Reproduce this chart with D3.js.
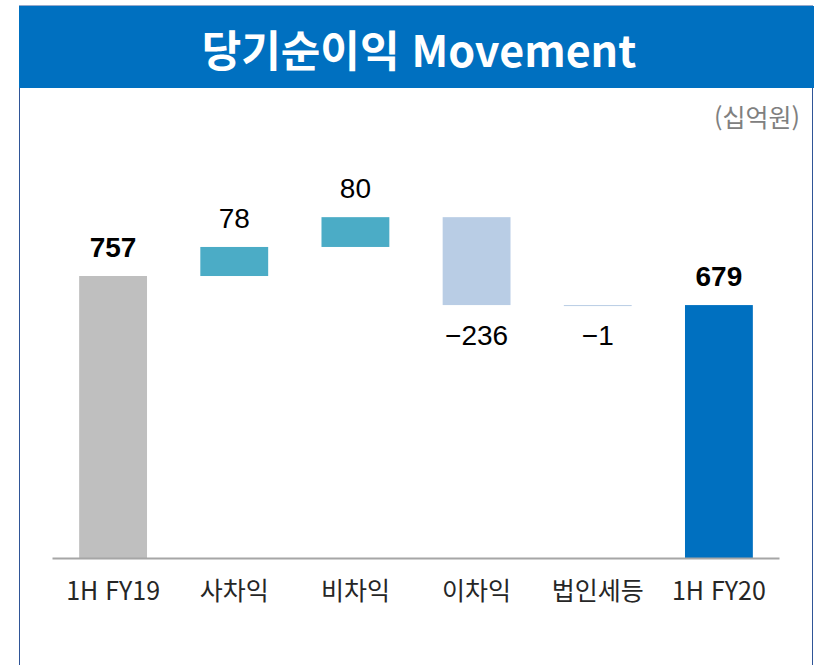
<!DOCTYPE html>
<html lang="ko">
<head>
    <meta charset="UTF-8">
    <title>당기순이익 Movement</title>
    <script src="https://d3js.org/d3.v7.min.js"></script>
    <style>
        body { margin: 0; background: #ffffff; }
        .title { font-family: "Noto Sans CJK KR", sans-serif; font-weight: 700; fill: #ffffff; }
        .unit { font-family: "Noto Sans CJK KR", sans-serif; fill: #808080; }
        .val { font-family: "Liberation Sans", Arial, sans-serif; fill: #000000; text-anchor: middle; }
        .cat { font-family: "Noto Sans CJK KR", "Liberation Sans", sans-serif; fill: #262626; text-anchor: middle; }
    </style>
</head>
<body>
<script>
    const categories = ["1H FY19", "사차익", "비차익", "이차익", "법인세등", "1H FY20"];
    const values = [757, 78, 80, -236, -1, 679];
    const kinds = ["total", "up", "up", "down", "down", "total"];
    const labels = ["757", "78", "80", "\u2212236", "\u22121", "679"];

    const colors = { total0: "#bfbfbf", up: "#4bacc6", down: "#b9cde5", total1: "#0070c0" };

    const W = 817, H = 665;
    const svg = d3.select("body").append("svg")
        .attr("width", W)
        .attr("height", H);

    // frame + header
    svg.append("rect")
        .attr("x", 19.5).attr("y", 6)
        .attr("width", 793).attr("height", H)
        .attr("fill", "#fff")
        .attr("stroke", "#2f5597")
        .attr("stroke-width", 1);
    svg.append("rect")
        .attr("x", 19).attr("y", 6)
        .attr("width", 795).attr("height", 82)
        .attr("fill", "#0070c0");
    svg.append("text")
        .attr("class", "title")
        .attr("x", 419).attr("y", 67)
        .attr("text-anchor", "middle")
        .style("font-size", "43px")
        .text("당기순이익 Movement");
    svg.append("text")
        .attr("class", "unit")
        .attr("x", 800).attr("y", 127)
        .attr("text-anchor", "end")
        .style("font-size", "25px")
        .text("(십억원)");

    // waterfall spans
    let run = 0;
    const bars = categories.map((c, i) => {
        let y0, y1;
        if (kinds[i] === "total") {
            y0 = 0; y1 = values[i]; run = values[i];
        } else {
            y0 = run; y1 = run + values[i]; run = y1;
        }
        return { cat: c, v: values[i], kind: kinds[i], lo: Math.min(y0, y1), hi: Math.max(y0, y1), label: labels[i], i };
    });

    const x = d3.scaleBand()
        .domain(categories)
        .range([52.5, 779.5])
        .paddingInner(0.44)
        .paddingOuter(0.22);

    const y = d3.scaleLinear()
        .domain([0, 1000])
        .range([558, 185.5]);

    function fillOf(d) {
        if (d.kind === "total") return d.i === 0 ? colors.total0 : colors.total1;
        return colors[d.kind];
    }

    svg.selectAll(".bar")
        .data(bars)
        .enter().append("rect")
        .attr("class", "bar")
        .attr("x", d => x(d.cat))
        .attr("width", x.bandwidth())
        .attr("y", d => y(d.hi))
        .attr("height", d => Math.max(1, y(d.lo) - y(d.hi)))
        .attr("fill", fillOf);

    // baseline
    svg.append("line")
        .attr("x1", 52.5).attr("x2", 779.5)
        .attr("y1", y(0) + 0.5).attr("y2", y(0) + 0.5)
        .attr("stroke", "#a6a6a6")
        .attr("stroke-width", 2);

    // value labels
    svg.selectAll(".val")
        .data(bars)
        .enter().append("text")
        .attr("class", "val")
        .attr("x", d => x(d.cat) + x.bandwidth() / 2)
        .attr("y", d => d.v < 0 ? y(d.lo) + 40 : y(d.hi) - 19)
        .style("font-size", "28px")
        .style("font-weight", d => d.kind === "total" ? 700 : 400)
        .text(d => d.label);

    // category labels
    svg.selectAll(".cat")
        .data(categories)
        .enter().append("text")
        .attr("class", "cat")
        .attr("x", d => x(d) + x.bandwidth() / 2)
        .attr("y", 600)
        .style("font-size", "25px")
        .text(d => d);
</script>
</body>
</html>
